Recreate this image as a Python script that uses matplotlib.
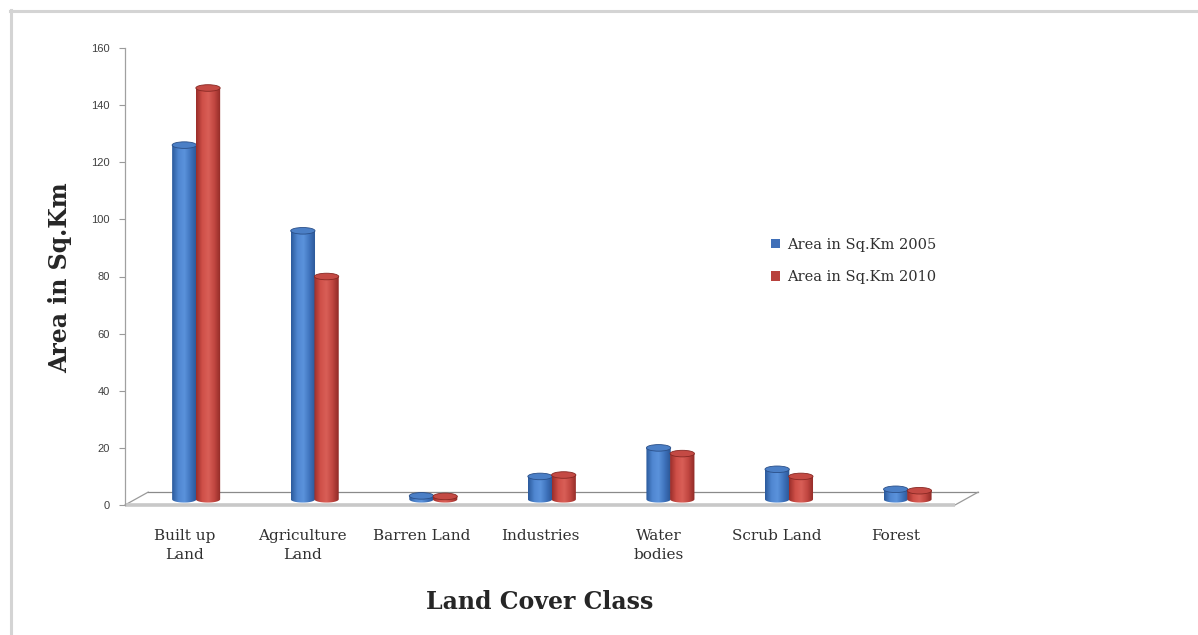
import numpy as np
import matplotlib
matplotlib.use("Agg")
import matplotlib.pyplot as plt
from matplotlib.patches import Ellipse, PathPatch, Patch
from matplotlib.path import Path
from matplotlib.colors import LinearSegmentedColormap

# ---- data ----
categories = ["Built up\nLand", "Agriculture\nLand", "Barren Land", "Industries",
              "Water\nbodies", "Scrub Land", "Forest"]
area_2005 = [124, 94, 1.2, 8, 18, 10.5, 3.5]
area_2010 = [144, 78, 1.0, 8.5, 16, 8, 3]
series_names = ["Area in Sq.Km 2005", "Area in Sq.Km 2010"]
y_ticks = [0, 20, 40, 60, 80, 100, 120, 140, 160]

# ---- style ----
W, H = 1198, 635
fig = plt.figure(figsize=(W / 100, H / 100), dpi=100)
fig.patch.set_facecolor("white")

# chart border (top/left visible)
fig.add_artist(plt.Line2D([10 / W, 1.0], [1 - 11 / H, 1 - 11 / H], color="#d4d4d4", lw=2.2))
fig.add_artist(plt.Line2D([11 / W, 11 / W], [0.0, 1 - 10 / H], color="#d4d4d4", lw=2.2))

ax = fig.add_axes([125 / W, (H - 505) / H, 830 / W, 457 / H])
ax.set_facecolor("none")

base = 2.0           # bars stand on the middle of the floor
bar_w = 0.205
cap_h = 2.3
x_shift = [0.0, 0.2]

blue_cmap = LinearSegmentedColormap.from_list(
    "b", ["#2b5a9c", "#4f86d0", "#5b93dc", "#3f73bd", "#2a5594"])
red_cmap = LinearSegmentedColormap.from_list(
    "r", ["#9a2e2a", "#cf4f48", "#d95f57", "#c04640", "#8f2a26"])
cmaps = [blue_cmap, red_cmap]
cap_colors = ["#4b7fc6", "#c44a44"]
edge_colors = ["#2a4f88", "#872823"]

grad = np.linspace(0, 1, 64).reshape(1, -1)
t = np.linspace(np.pi, 2 * np.pi, 30)

for j, vals in enumerate([area_2005, area_2010]):
    for i, v in enumerate(vals):
        xc = i + x_shift[j]
        x0, x1 = xc - bar_w / 2, xc + bar_w / 2
        top = base + v
        bx = xc + (bar_w / 2) * np.cos(t)
        by = base + (cap_h / 2) * np.sin(t)
        verts = [(x0, top)] + list(zip(bx, by)) + [(x1, top), (x0, top)]
        codes = [Path.MOVETO] + [Path.LINETO] * (len(verts) - 2) + [Path.CLOSEPOLY]
        clip = PathPatch(Path(verts, codes), facecolor="none", edgecolor="none",
                         transform=ax.transData)
        ax.add_patch(clip)
        im = ax.imshow(grad, cmap=cmaps[j], aspect="auto", interpolation="bilinear",
                       extent=[x0, x1, base - cap_h / 2, top], zorder=3 + j)
        im.set_clip_path(clip)
        ax.add_patch(Ellipse((xc, top), bar_w, cap_h, facecolor=cap_colors[j],
                             edgecolor=edge_colors[j], lw=0.6, zorder=3.5 + j))

# floor (3D base)
dx_back, dy_back = 0.195, 4.5
ax.plot([-0.5, -0.5 + dx_back], [0, dy_back], color="#9a9a9a", lw=0.9, clip_on=False, zorder=1)
ax.plot([-0.5 + dx_back, 6.5 + dx_back], [dy_back, dy_back], color="#8a8a8a", lw=0.9,
        clip_on=False, zorder=1)
ax.plot([6.5, 6.5 + dx_back], [0, dy_back], color="#9a9a9a", lw=0.9, clip_on=False, zorder=1)
ax.plot([-0.5, 6.5], [0, 0], color="#c8c8c8", lw=2.6, clip_on=False, zorder=1,
        solid_capstyle="butt")

ax.set_xlim(-0.5, 6.5)
ax.set_ylim(0, 160)
ax.set_yticks(y_ticks)
ax.set_yticklabels([str(v) for v in y_ticks], fontsize=8, color="#404040",
                   family="Liberation Sans")
ax.tick_params(axis="y", length=4, width=0.8, color="#9a9a9a", pad=7)
ax.set_xticks(range(len(categories)))
ax.set_xticklabels(categories, fontsize=11, family="DejaVu Serif", color="#303030",
                   linespacing=1.45, va="top")
ax.tick_params(axis="x", length=0, pad=17)
for s in ["top", "right", "bottom"]:
    ax.spines[s].set_visible(False)
ax.spines["left"].set_color("#a0a0a0")
ax.spines["left"].set_linewidth(0.9)

fig.text(540 / W, 1 - 602 / H, "Land Cover Class", ha="center", va="center",
         fontsize=17, fontweight="bold", family="DejaVu Serif", color="#262626")
fig.text(60 / W, 1 - 278 / H, "Area in Sq.Km", ha="center", va="center", rotation=90,
         fontsize=17, fontweight="bold", family="DejaVu Serif", color="#262626")

handles = [Patch(facecolor="#3f6fb8", edgecolor="none"),
           Patch(facecolor="#b8423d", edgecolor="none")]
fig.legend(handles, series_names, loc="center left",
           bbox_to_anchor=(758 / W, 1 - 261 / H), frameon=False,
           prop={"family": "DejaVu Serif", "size": 10.5},
           handlelength=0.6, handleheight=0.6, handletextpad=0.5, labelspacing=1.25,
           labelcolor="#303030")

fig.savefig("out.png", dpi=100)
